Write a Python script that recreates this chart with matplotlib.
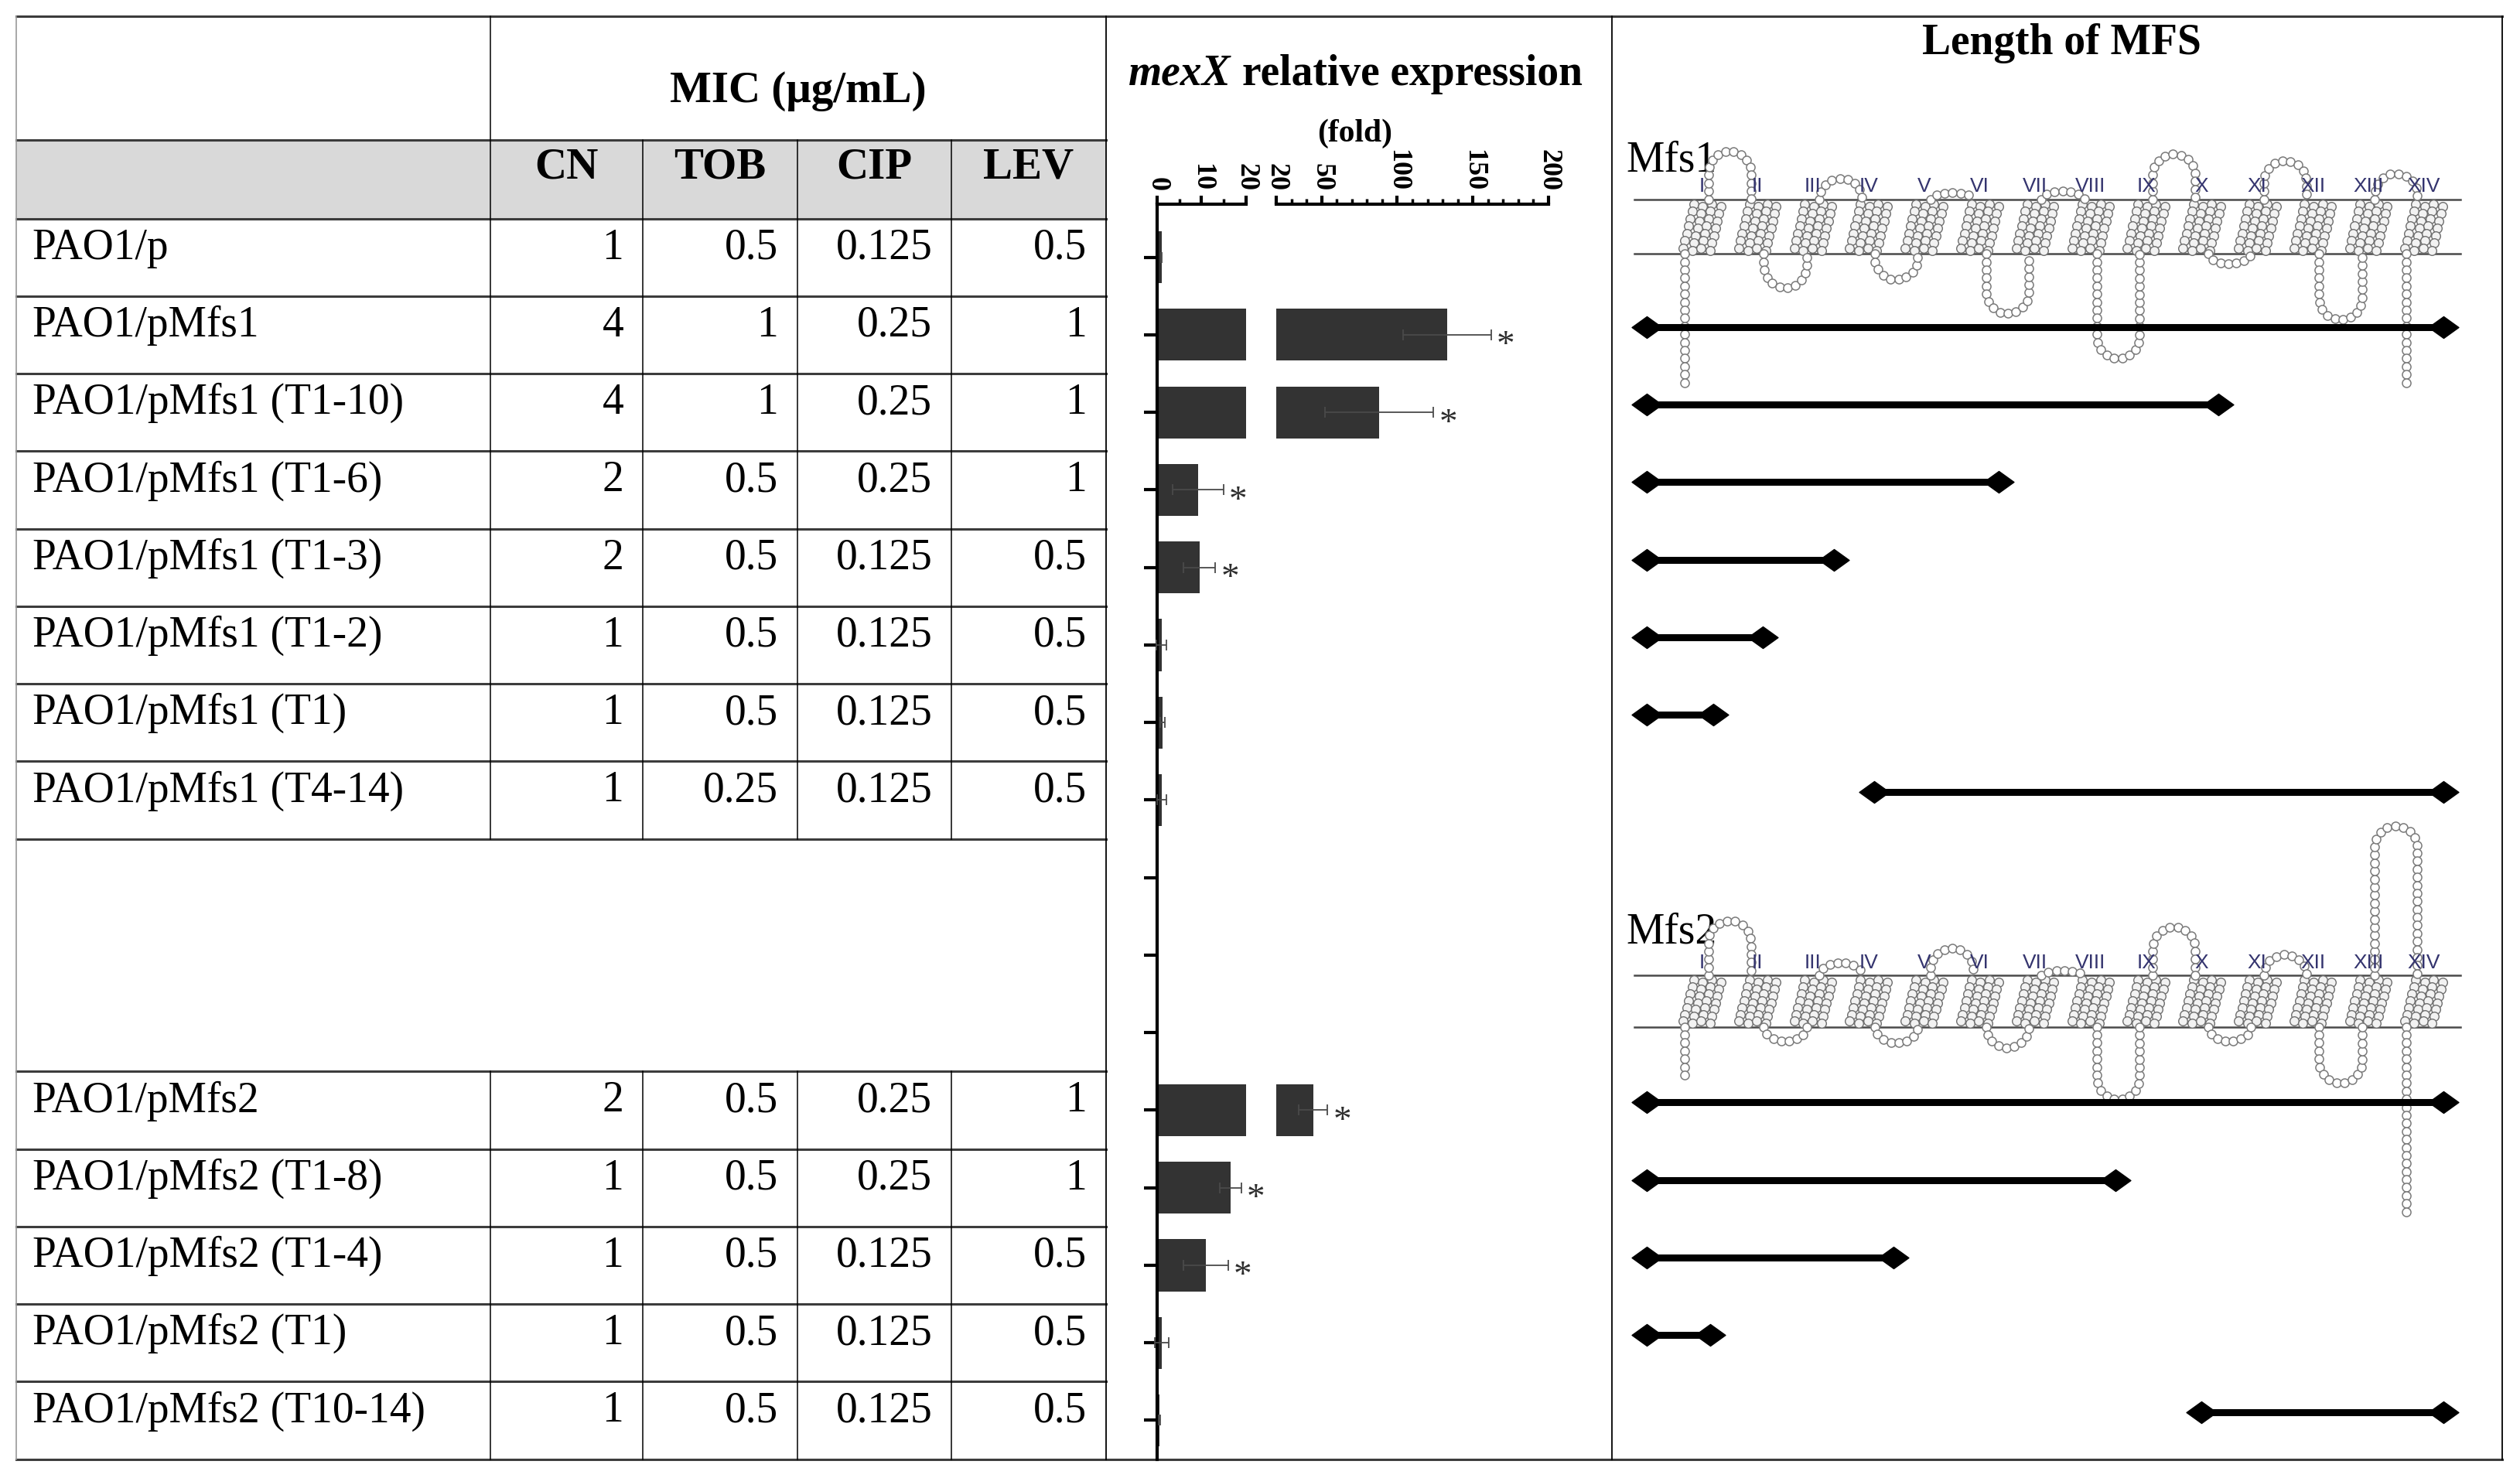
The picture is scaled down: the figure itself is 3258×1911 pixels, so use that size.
import numpy as np
import matplotlib.pyplot as plt
from matplotlib.path import Path

plt.rcParams['font.family'] = ['Liberation Serif', 'DejaVu Serif']

# ---- values ----
strains = ['PAO1/p', 'PAO1/pMfs1', 'PAO1/pMfs1 (T1-10)', 'PAO1/pMfs1 (T1-6)',
           'PAO1/pMfs1 (T1-3)', 'PAO1/pMfs1 (T1-2)', 'PAO1/pMfs1 (T1)',
           'PAO1/pMfs1 (T4-14)', 'PAO1/pMfs2', 'PAO1/pMfs2 (T1-8)',
           'PAO1/pMfs2 (T1-4)', 'PAO1/pMfs2 (T1)', 'PAO1/pMfs2 (T10-14)']
mic_names = ['CN', 'TOB', 'CIP', 'LEV']
mic_cn = [1, 4, 4, 2, 2, 1, 1, 1, 2, 1, 1, 1, 1]
mic_tob = [0.5, 1, 1, 0.5, 0.5, 0.5, 0.5, 0.25, 0.5, 0.5, 0.5, 0.5, 0.5]
mic_cip = [0.125, 0.25, 0.25, 0.25, 0.125, 0.125, 0.125, 0.125, 0.25, 0.25, 0.125, 0.125, 0.125]
mic_lev = [0.5, 1, 1, 1, 0.5, 0.5, 0.5, 0.5, 1, 1, 0.5, 0.5, 0.5]

# mexX relative expression (fold)
expr_mean = [1.0, 133, 88, 9.2, 9.5, 1.0, 1.2, 1.0, 44.5, 16.5, 11.0, 1.0, 0.5]
expr_sd = [0.1, 29, 36, 5.8, 3.6, 1.1, 0.5, 1.0, 9.5, 2.4, 5.0, 1.6, 0.2]
expr_sig = [False, True, True, True, True, False, False, False, True, True, True, False, False]

# length of the MFS fragment, in transmembrane-helix units (helix I = 1 ... XIV = 14)
seg_start = [np.nan, 0, 0, 0, 0, 0, 0, 4.1, 0, 0, 0, 0, 10.0]
seg_end = [np.nan, 14.35, 10.3, 6.35, 3.37, 2.1, 1.2, 14.35, 14.35, 8.45, 4.45, 1.15, 14.35]

# table rows (three empty rows between the two groups)
row_pos = list(range(8)) + list(range(11, 16))

helix_names = ['I', 'II', 'III', 'IV', 'V', 'VI', 'VII', 'VIII', 'IX', 'X',
               'XI', 'XII', 'XIII', 'XIV']
# loop sizes of the topology sketches (px above / below the membrane)
mfs1_ext_loops = [30, 13, 4, 5, 28, 24, 16]
mfs1_cyt_loops = [21, 16, 37, 65, 6, 41]
mfs1_tails = [82, 82]
mfs2_ext_loops = [34, 8, 17, 3, 30, 13, 93]
mfs2_cyt_loops = [9, 10, 13, 45, 9, 35]
mfs2_tails = [35, 116]

# ---- layout (reference measured on a 1568 px wide copy) ----
DW = 1568.0
DH = 1911 * DW / 3258
ROW0, ROWH = 160.1, 48.25
HEL0, HELW = 1059.0, 34.55
col_x = [10, 305, 400, 496, 592, 688]
bar_right = 1003
right_x = 1557


def row(py):
    return (py - ROW0) / ROWH


def hel(px):
    return (px - HEL0) / HELW + 1


def frect(x0, x1, y0, y1):
    return [x0 / DW, 1 - y1 / DH, (x1 - x0) / DW, (y1 - y0) / DH]


fig = plt.figure(figsize=(32.58, 19.11), dpi=100)

# overlay for the table and panel frames
ax0 = fig.add_axes([0, 0, 1, 1])
ax0.set_xlim(0, DW)
ax0.set_ylim(row(DH), row(0))
ax0.axis('off')

top, mid, head_bot, bottom = row(10), row(87), -0.5, 15.5
hcol = '#3c3c3c'
ax0.fill_between([col_x[0], col_x[-1]], mid, head_bot, color='#d9d9d9', lw=0)
ax0.plot([col_x[0], right_x], [top, top], color=hcol, lw=2.2)
ax0.plot([col_x[0], right_x], [bottom, bottom], color=hcol, lw=2.2)
for yy in [mid, head_bot] + [k + 0.5 for k in range(8)] + [k + 0.5 for k in range(10, 15)]:
    ax0.plot([col_x[0], col_x[-1]], [yy, yy], color=hcol, lw=2.2)

ax0.plot([col_x[0]] * 2, [top, bottom], color='#9a9a9a', lw=1.2)
for xx in [col_x[-1], bar_right, right_x]:
    ax0.plot([xx, xx], [top, bottom], color='black', lw=1.3)
ax0.plot([col_x[1]] * 2, [top, 7.5], color='black', lw=1.1)
ax0.plot([col_x[1]] * 2, [10.5, bottom], color='black', lw=1.1)
for xx in col_x[2:5]:
    ax0.plot([xx, xx], [mid, 7.5], color='black', lw=1.1)
    ax0.plot([xx, xx], [10.5, bottom], color='black', lw=1.1)

# headers
ax0.text((col_x[1] + col_x[-1]) / 2, row(57), 'MIC (μg/mL)', fontsize=41,
         fontweight='bold', ha='center', va='center')
for j, name in enumerate(mic_names):
    ax0.text((col_x[j + 1] + col_x[j + 2]) / 2, row(104), name, fontsize=41,
             fontweight='bold', ha='center', va='center')

# table body
mic_values = [mic_cn, mic_tob, mic_cip, mic_lev]
for i, name in enumerate(strains):
    r = row_pos[i] - 0.12
    ax0.text(col_x[0] + 10, r, name, fontsize=40, ha='left', va='center')
    for j, vals in enumerate(mic_values):
        ax0.text(col_x[j + 2] - 12, r, f'{vals[i]:g}', fontsize=40,
                 ha='right', va='center')

# panel titles
ax0.text(766, row(46), 'mexX', fontsize=40, fontweight='bold', fontstyle='italic',
         ha='right', va='center')
ax0.text(773, row(46), 'relative expression', fontsize=40, fontweight='bold',
         ha='left', va='center')
ax0.text(843, row(83), '(fold)', fontsize=30, fontweight='bold', ha='center', va='center')
ax0.text(1283, row(27), 'Length of MFS', fontsize=40, fontweight='bold',
         ha='center', va='center')
ax0.text(1012, row(100), 'Mfs1', fontsize=40, ha='left', va='center')
ax0.text(1012, row(580), 'Mfs2', fontsize=40, ha='left', va='center')

# ---- broken-axis bar chart ----
ylims = (row(908), row(127))
ax1 = fig.add_axes(frect(720, 775.3, 127, 908))
ax2 = fig.add_axes(frect(794.1, 963.5, 127, 908))
bar_col = '#333333'
for ax, lim in [(ax1, (0, 20)), (ax2, (20, 200))]:
    ax.patch.set_visible(False)
    ax.barh(row_pos, expr_mean, height=0.67, color=bar_col, zorder=2)
    ax.set_xlim(*lim)
    ax.set_ylim(*ylims)
    ax.xaxis.tick_top()
    for s in ['right', 'bottom']:
        ax.spines[s].set_visible(False)
    ax.spines['top'].set_linewidth(3)
    ax.tick_params(axis='x', which='major', length=8, width=3, pad=4,
                   labelsize=26, labelrotation=-90)
    ax.tick_params(axis='x', which='minor', length=5, width=2.5)

ax1.spines['left'].set_linewidth(3)
ax1.set_yticks(range(16))
ax1.tick_params(axis='y', length=12, width=3, labelleft=False)
ax1.set_xticks([0, 10, 20])
ax1.set_xticks([5, 15], minor=True)
ax2.spines['left'].set_visible(False)
ax2.set_yticks([])
ax2.set_xticks([20, 50, 100, 150, 200])
ax2.set_xticks(np.arange(30, 200, 10), minor=True)
for ax in (ax1, ax2):
    for lab in ax.get_xticklabels():
        lab.set_fontweight('bold')

for i in range(len(strains)):
    ax = ax2 if expr_mean[i] > 20 else ax1
    ax.errorbar(expr_mean[i], row_pos[i], xerr=expr_sd[i], fmt='none',
                ecolor='#4a4a4a', elinewidth=1.3, capsize=5, capthick=1.3,
                zorder=3, clip_on=False)
    if expr_sig[i]:
        ax.annotate('*', xy=(expr_mean[i] + expr_sd[i], row_pos[i]),
                    xytext=(5, -11), textcoords='offset points', fontsize=34,
                    ha='left', va='center', color='#2e2e2e',
                    annotation_clip=False)

# ---- MFS topology and fragment lengths ----
ax3 = fig.add_axes(frect(bar_right, right_x, 10, 908))
ax3.set_xlim(hel(bar_right), hel(right_x))
ax3.set_ylim(row(908), row(10))
ax3.axis('off')


def u_path(w, h, n=200):
    t = np.linspace(np.pi, 0, n)
    if h > w / 2:
        r = w / 2
        s = h - r
        xs = np.concatenate([np.zeros(n), r + r * np.cos(t), np.full(n, w)])
        ys = np.concatenate([np.linspace(0, s, n), s + r * np.sin(t), np.linspace(s, 0, n)])
    else:
        xs = w / 2 + w / 2 * np.cos(t)
        ys = h * np.sin(t)
    return xs, ys


def resample(xs, ys, step=5.0):
    d = np.hypot(np.diff(xs), np.diff(ys))
    s = np.concatenate([[0], np.cumsum(d)])
    k = np.arange(0, s[-1] + 1e-9, step)
    return np.interp(k, s, xs), np.interp(k, s, ys)


def snake(mem_top, mem_bot, ext_loops, cyt_loops, tails):
    top_r, bot_r = row(mem_top), row(mem_bot)
    thick = mem_bot - mem_top
    hx, hy, lx, ly = [], [], [], []
    n_rows = 7
    for i in range(1, 15):
        for c in range(4):
            for r in range(n_rows):
                dx = (c - 1.5) * 5.6 + (3 - r) * 1.1
                dy = 3.0 + r * (thick - 6.5) / (n_rows - 1) + (c % 2) * 1.3
                hx.append(i + dx / HELW)
                hy.append(top_r + dy / ROWH)
    gap = 4.0
    w = HELW - 2 * gap
    for k, h in enumerate(ext_loops):
        x0 = 2 * k + 1 + gap / HELW
        xs, ys = resample(*u_path(w, h))
        lx += list(x0 + xs / HELW)
        ly += list(top_r - ys / ROWH)
    for k, h in enumerate(cyt_loops):
        x0 = 2 * k + 2 + gap / HELW
        xs, ys = resample(*u_path(w, h))
        lx += list(x0 + xs / HELW)
        ly += list(bot_r + ys / ROWH)
    for tx, h in zip([1, 14], tails):
        ys = np.arange(0, h, 5.0)
        lx += [tx - 11 / HELW] * len(ys)
        ly += list(bot_r + ys / ROWH)
    ax3.plot([hel(1017), hel(1531)], [top_r, top_r], color='#4a4a4a', lw=1.8, zorder=1)
    ax3.plot([hel(1017), hel(1531)], [bot_r, bot_r], color='#4a4a4a', lw=1.8, zorder=1)
    ax3.scatter(hx, hy, s=70, facecolors='#f2f2f2', edgecolors='#6e6e6e',
                linewidths=1.0, zorder=2)
    ax3.scatter(lx, ly, s=64, facecolors='white', edgecolors='#7a7a7a',
                linewidths=1.1, zorder=2)
    for i, name in enumerate(helix_names):
        ax3.text(i + 1, top_r - 8 / ROWH, name, fontsize=19, color='#34346e',
                 family='Liberation Sans', ha='center', va='center', zorder=3)


snake(124, 158, mfs1_ext_loops, mfs1_cyt_loops, mfs1_tails)
snake(607, 639, mfs2_ext_loops, mfs2_cyt_loops, mfs2_tails)

diamond = Path([(-1, 0), (0, 0.72), (1, 0), (0, -0.72), (-1, 0)],
               [Path.MOVETO, Path.LINETO, Path.LINETO, Path.LINETO, Path.CLOSEPOLY])
for i in range(len(strains)):
    if np.isnan(seg_start[i]):
        continue
    yy = row_pos[i] - 0.1
    ax3.plot([seg_start[i], seg_end[i]], [yy, yy], color='black', lw=6.5,
             solid_capstyle='butt', zorder=4)
    ax3.plot([seg_start[i], seg_end[i]], [yy, yy], ls='none', marker=diamond,
             markersize=28, color='black', zorder=5)

fig.savefig('out.png', dpi=100)
